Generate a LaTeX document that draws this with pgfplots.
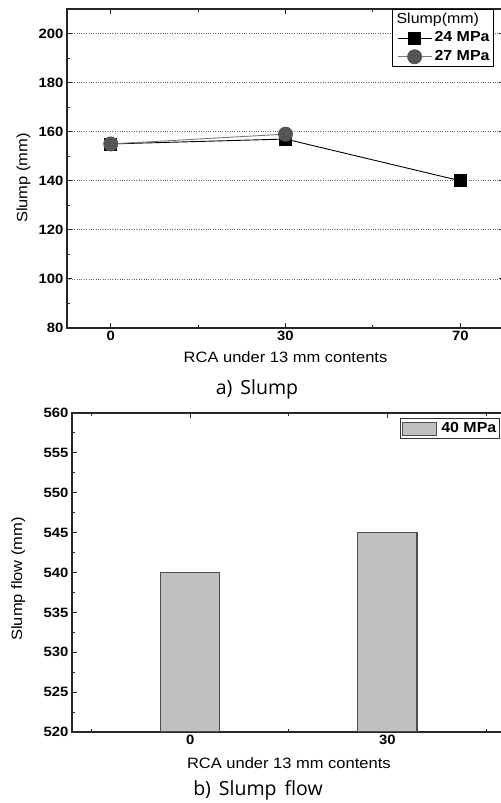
\documentclass[border=0pt]{standalone}
\usepackage{fontspec}
\setmainfont{Liberation Sans}[FakeStretch=1.1]
\newfontfamily\capfont{Open Sans}
\usepackage{pgfplots}
\pgfplotsset{compat=1.18}
\definecolor{markgray}{HTML}{555555}
\definecolor{linegray}{HTML}{777777}
\definecolor{barfill}{HTML}{C0C0C0}
\definecolor{bardraw}{HTML}{4D4D4D}
\pgfplotsset{
  common/.style={
    scale only axis,
    anchor=south west,
    axis line style={line width=1.2bp, black!85},
    tick align=inside,
    major tick length=5bp,
    minor tick length=3bp,
    tick style={black!85, line width=0.9bp},
    /pgf/number format/assume math mode=true,
    tick label style={font=\bfseries\fontsize{13.5bp}{15bp}\selectfont},
    label style={font=\fontsize{15bp}{18bp}\selectfont},
  }
}
\begin{document}
\begin{tikzpicture}
\useasboundingbox (0,0) rectangle (501bp,803bp);
\clip (0,0) rectangle (501bp,803bp);
% ---------- a) Slump ----------
\begin{axis}[common,
  at={(67bp,475bp)}, width=437bp, height=319bp,
  xmin=-0.25, xmax=2.25, ymin=80, ymax=210,
  xtick={0,1,2}, xticklabels={0,30,70}, minor xtick={0.5,1.5},
  ytick={80,100,...,200}, minor ytick={90,110,...,210},
  ymajorgrids, major grid style={dotted, black!60, line width=0.7bp},
  xlabel={RCA under 13 mm contents}, ylabel={Slump (mm)},
  xlabel style={at={(axis description cs:0.5,-0.1097)}, anchor=base},
  ylabel style={at={(axis description cs:-0.0995,0.47)}, anchor=center},
  legend style={at={(rel axis cs:0.744,1)}, anchor=north west, draw=black,
    line width=1bp, fill=white, inner sep=1bp,
    font=\bfseries\fontsize{14.5bp}{15bp}\selectfont,
    nodes={inner sep=2.5bp, text height=10.5bp, text depth=3bp}},
  legend cell align=left,
  legend image code/.code={\draw[mark repeat=2, mark phase=2, #1] plot coordinates {(4bp,0bp) (21bp,0bp) (38bp,0bp)};},
]
\addlegendimage{empty legend}
\addlegendentry{\hspace{-38bp}\mdseries\fontsize{14.5bp}{15bp}\selectfont Slump(mm)}
\addplot[black, line width=0.9bp, mark=square*, mark size=6bp,
  mark options={fill=black, draw=black}]
  coordinates {(0,155) (1,157) (2,140)};
\addlegendentry{24 MPa}
\addplot[linegray, line width=0.9bp, mark=*, mark size=7bp,
  mark options={fill=markgray, draw=markgray}]
  coordinates {(0,155) (1,159)};
\addlegendentry{27 MPa}
\end{axis}
% ---------- b) Slump flow ----------
\begin{axis}[common,
  at={(72bp,71bp)}, width=433.7bp, height=319bp,
  xmin=-0.6, xmax=1.6, ymin=520, ymax=560,
  xtick={0,1}, xticklabels={0,30}, minor xtick={-0.5,0.5,1.5},
  ytick={520,525,...,560}, minor ytick={522.5,527.5,...,557.5},
  xlabel={RCA under 13 mm contents}, ylabel={Slump flow (mm)},
  xlabel style={at={(axis description cs:0.5,-0.1129)}, anchor=base},
  ylabel style={at={(axis description cs:-0.124,0.48)}, anchor=center},
  legend style={at={(rel axis cs:0.757,0.984)}, anchor=north west, draw=black!80,
    line width=1bp, fill=white, inner sep=1bp,
    font=\bfseries\fontsize{14.5bp}{15bp}\selectfont,
    nodes={inner sep=2.5bp, text height=10bp, text depth=3bp}},
  legend cell align=left,
]
\addplot[ybar, bar width=0.3, fill=barfill, draw=bardraw, line width=1.2bp,
  legend image code/.code={\draw[fill=barfill, draw=bardraw, line width=1bp] (1bp,-6.5bp) rectangle (35bp,6.5bp);}]
  coordinates {(0,540) (1,545)};
\addlegendentry{\hspace{2bp}40 MPa}
\end{axis}
% captions
\node[font=\capfont\fontsize{19.5bp}{22bp}\selectfont, anchor=base] at (257bp,408bp) {a)\hspace{8bp}Slump};
\node[font=\capfont\fontsize{19.5bp}{22bp}\selectfont, anchor=base] at (258bp,8bp) {b)\hspace{8bp}Slump\hspace{8bp}flow};
\end{tikzpicture}
\end{document}
